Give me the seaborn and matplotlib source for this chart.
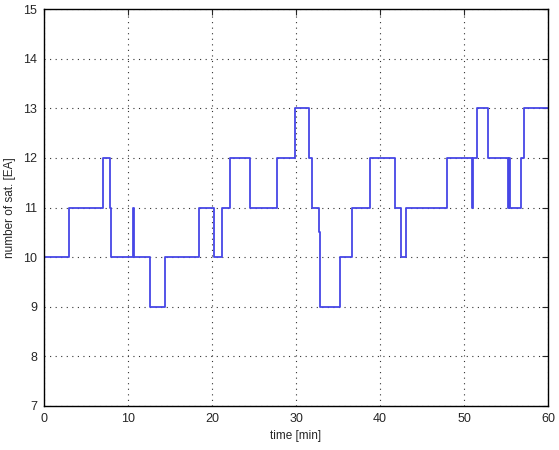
import pandas as pd
import seaborn as sns
import matplotlib
matplotlib.use("Agg")
import matplotlib.pyplot as plt

# step changes: time [min] where the count changes, and the new count
times = [0, 3.0, 7.0, 7.8, 8.0, 10.6, 10.75, 12.65, 14.4, 18.4, 20.2, 21.2,
         22.1, 24.5, 27.7, 29.9, 31.5, 31.9, 32.7, 32.9, 35.2, 36.65, 38.8,
         41.8, 42.5, 43.1, 48.0, 51.0, 51.1, 51.6, 52.9, 55.2, 55.35, 55.45,
         56.8, 57.2, 60]
n_sat = [10, 11, 12, 11, 10, 11, 10, 9, 10, 11, 10, 11,
         12, 11, 12, 13, 12, 11, 10.5, 9, 10, 11, 12,
         11, 10, 11, 12, 11, 12, 13, 12, 11, 12, 11,
         12, 13, 13]

x_ticks = [0, 10, 20, 30, 40, 50, 60]
y_ticks = [7, 8, 9, 10, 11, 12, 13, 14, 15]

sns.set_style("white")
plt.rcParams['font.family'] = ['Liberation Sans', 'DejaVu Sans']

df = pd.DataFrame({'t': times, 'n': n_sat})

fig = plt.figure(figsize=(5.59, 4.5), dpi=100)
ax = fig.add_axes([44 / 559, 44 / 450, 504 / 559, 397 / 450])
sns.lineplot(data=df, x='t', y='n', sort=False, estimator=None,
             drawstyle='steps-post', color='#4646e6', linewidth=1.3, ax=ax)

ax.set_xlim(0, 60)
ax.set_ylim(7, 15)
ax.set_xticks(x_ticks)
ax.set_yticks(y_ticks)
ax.grid(True, linestyle=(0, (1, 4)), color='#333333', linewidth=0.8)
ax.tick_params(direction='in', top=True, right=True, labelsize=9, length=4, pad=5)
for s in ax.spines.values():
    s.set_color('black')
    s.set_linewidth(1.0)
ax.set_xlabel('time [min]', fontsize=8.5, labelpad=4)
ax.set_ylabel('number of sat. [EA]', fontsize=8.5, labelpad=5)

fig.savefig('out.png', dpi=100)
